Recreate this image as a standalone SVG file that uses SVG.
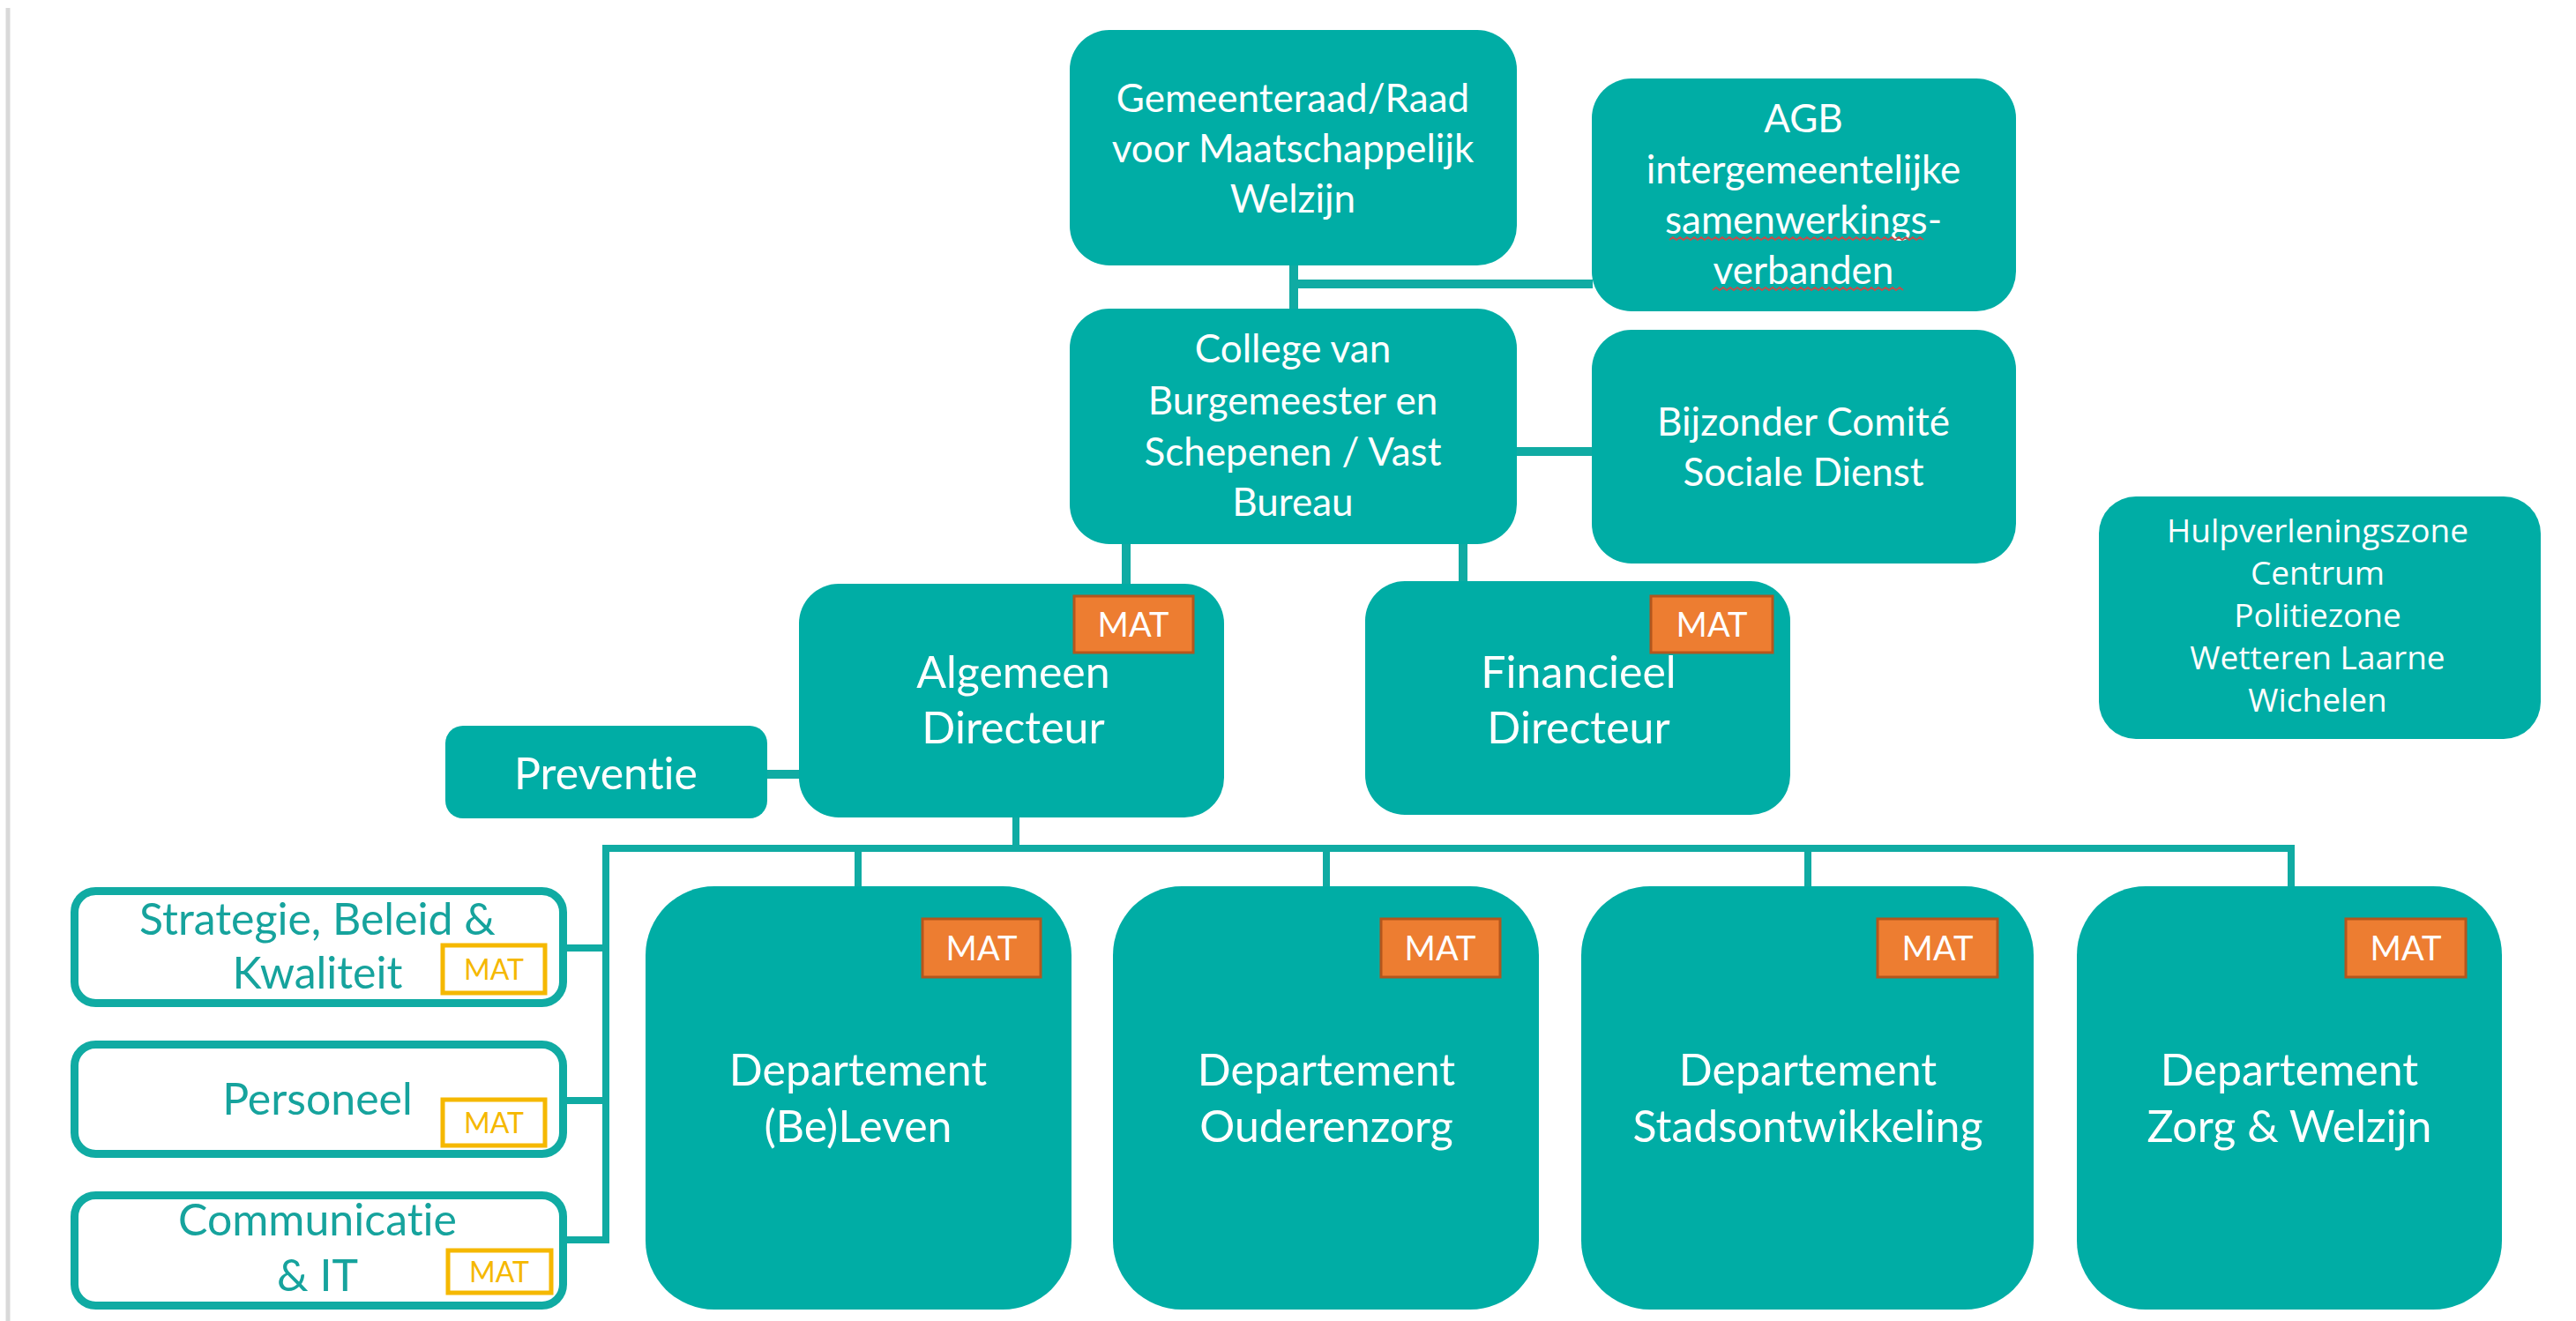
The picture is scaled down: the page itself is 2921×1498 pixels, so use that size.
<svg xmlns="http://www.w3.org/2000/svg" width="2921" height="1498" viewBox="0 0 2921 1498">
<style>
text{font-variant-ligatures:none;font-feature-settings:"liga" 0,"clig" 0}
.box{fill:#00ADA5}
.obox{fill:#ffffff;stroke:#10ABA3;stroke-width:9}
.mat{fill:#ED7D31;stroke:#B4561D;stroke-width:3}
.ymat{fill:#ffffff;stroke:#F5B800;stroke-width:5}
.t{font-family:Lato,"Liberation Sans",sans-serif;fill:#ffffff;text-anchor:middle}
.top{font-size:44px}
.big{font-size:50px}
.tt{font-family:Lato,"Liberation Sans",sans-serif;fill:#16A39D;text-anchor:middle;font-size:50px}
.mt{font-family:Lato,"Liberation Sans",sans-serif;fill:#ffffff;text-anchor:middle;font-size:38px}
.ymt{font-family:Lato,"Liberation Sans",sans-serif;fill:#F5B800;text-anchor:middle;font-size:32px}
.ht{font-family:"Open Sans","Noto Sans",sans-serif;fill:#ffffff;text-anchor:middle;font-size:37px}
.c{stroke:#10ABA3;fill:none}
.sq{stroke:#C0504D;fill:none;stroke-width:2}
</style>
<rect x="0" y="0" width="2921" height="1498" fill="#ffffff"/>
<line x1="9" y1="9" x2="9" y2="1498" stroke="#d9d9d9" stroke-width="5"/>
<g id="connectors">
<path class="c" stroke-width="10" d="M1467 300 V352 M1467 322 H1806"/>
<path class="c" stroke-width="10" d="M1718 512 H1806"/>
<path class="c" stroke-width="10" d="M1277 615 V663 M1659 615 V661"/>
<path class="c" stroke-width="10" d="M868 878 H908"/>
<path class="c" stroke-width="8" d="M1152 926 V962"/>
<path class="c" stroke-width="8" d="M683 962 H2602"/>
<path class="c" stroke-width="8" d="M973 962 V1006 M1504 962 V1006 M2050 962 V1006 M2598 962 V1006"/>
<path class="c" stroke-width="8" d="M687 958 V1410 M643 1075 H687 M643 1248 H687 M643 1406 H687"/>
</g>
<g id="gemeenteraad">
<rect class="box" x="1213" y="34" width="507" height="267" rx="45"/>
<text class="t top" x="1466" y="127">Gemeenteraad/Raad</text>
<text class="t top" x="1466" y="184">voor Maatschappelijk</text>
<text class="t top" x="1466" y="241">Welzijn</text>
</g>
<g id="agb">
<rect class="box" x="1805" y="89" width="481" height="264" rx="45"/>
<text class="t top" x="2045" y="150">AGB</text>
<text class="t top" x="2045" y="208">intergemeentelijke</text>
<text class="t top" x="2045" y="265">samenwerkings-</text>
<text class="t top" x="2045" y="322">verbanden</text>
<path class="sq" d="M1893 272 l4 -3 l4 3 l4 -3 l4 3 l4 -3 l4 3 l4 -3 l4 3 l4 -3 l4 3 l4 -3 l4 3 l4 -3 l4 3 l4 -3 l4 3 l4 -3 l4 3 l4 -3 l4 3 l4 -3 l4 3 l4 -3 l4 3 l4 -3 l4 3 l4 -3 l4 3 l4 -3 l4 3 l4 -3 l4 3 l4 -3 l4 3 l4 -3 l4 3 l4 -3 l4 3 l4 -3 l4 3 l4 -3 l4 3 l4 -3 l4 3 l4 -3 l4 3 l4 -3 l4 3 l4 -3 l4 3 l4 -3 l4 3 l4 -3 l4 3 l4 -3 l4 3 l4 -3 l4 3 l4 -3 l4 3 l4 -3 l4 3 l4 -3 l4 3 l4 -3 l4 3 l4 -3 l4 3 l4 -3 l4 3 l4 -3 l4 3"/>
<path class="sq" d="M1942 329 l4 -3 l4 3 l4 -3 l4 3 l4 -3 l4 3 l4 -3 l4 3 l4 -3 l4 3 l4 -3 l4 3 l4 -3 l4 3 l4 -3 l4 3 l4 -3 l4 3 l4 -3 l4 3 l4 -3 l4 3 l4 -3 l4 3 l4 -3 l4 3 l4 -3 l4 3 l4 -3 l4 3 l4 -3 l4 3 l4 -3 l4 3 l4 -3 l4 3 l4 -3 l4 3 l4 -3 l4 3 l4 -3 l4 3 l4 -3 l4 3 l4 -3 l4 3 l4 -3 l4 3 l4 -3 l4 3 l4 -3 l4 3 l4 -3 l4 3"/>
</g>
<g id="college">
<rect class="box" x="1213" y="350" width="507" height="267" rx="45"/>
<text class="t top" x="1466" y="411">College van</text>
<text class="t top" x="1466" y="470">Burgemeester en</text>
<text class="t top" x="1466" y="528">Schepenen / Vast</text>
<text class="t top" x="1466" y="585">Bureau</text>
</g>
<g id="bijzonder">
<rect class="box" x="1805" y="374" width="481" height="265" rx="45"/>
<text class="t top" x="2045" y="494">Bijzonder Comité</text>
<text class="t top" x="2045" y="551">Sociale Dienst</text>
</g>
<g id="hulpverleningszone">
<rect class="box" x="2380" y="563" width="501" height="275" rx="42"/>
<text class="ht" x="2628" y="615">Hulpverleningszone</text>
<text class="ht" x="2628" y="663">Centrum</text>
<text class="ht" x="2628" y="711">Politiezone</text>
<text class="ht" x="2628" y="759">Wetteren Laarne</text>
<text class="ht" x="2628" y="807">Wichelen</text>
</g>
<g id="algemeen-directeur">
<rect class="box" x="906" y="662" width="482" height="265" rx="45"/>
<rect class="mat" x="1218" y="676" width="135" height="64"/>
<text class="mt" x="1285" y="722">MAT</text>
<text class="t big" x="1149" y="780">Algemeen</text>
<text class="t big" x="1149" y="843">Directeur</text>
</g>
<g id="financieel-directeur">
<rect class="box" x="1548" y="659" width="482" height="265" rx="45"/>
<rect class="mat" x="1872" y="676" width="138" height="64"/>
<text class="mt" x="1941" y="722">MAT</text>
<text class="t big" x="1790" y="780">Financieel</text>
<text class="t big" x="1790" y="843">Directeur</text>
</g>
<g id="preventie">
<rect class="box" x="505" y="823" width="365" height="105" rx="20"/>
<text class="t big" x="687" y="895">Preventie</text>
</g>
<g id="strategie">
<rect class="obox" x="84.5" y="1010.5" width="554" height="127" rx="24"/>
<text class="tt" x="360" y="1060">Strategie, Beleid &amp;</text>
<text class="tt" x="360" y="1121">Kwaliteit</text>
<rect class="ymat" x="502" y="1072" width="116" height="54"/>
<text class="ymt" x="560" y="1111">MAT</text>
</g>
<g id="personeel">
<rect class="obox" x="84.5" y="1184.5" width="554" height="124" rx="24"/>
<text class="tt" x="360" y="1264">Personeel</text>
<rect class="ymat" x="502" y="1247" width="116" height="52"/>
<text class="ymt" x="560" y="1285">MAT</text>
</g>
<g id="communicatie">
<rect class="obox" x="84.5" y="1355.5" width="554" height="125" rx="24"/>
<text class="tt" x="360" y="1401">Communicatie</text>
<text class="tt" x="360" y="1464">&amp; IT</text>
<rect class="ymat" x="508" y="1418" width="117" height="48"/>
<text class="ymt" x="566" y="1454">MAT</text>
</g>
<g id="dept-beleven">
<rect class="box" x="732" y="1005" width="483" height="480" rx="78"/>
<rect class="mat" x="1046" y="1042" width="134" height="66"/>
<text class="mt" x="1113" y="1089">MAT</text>
<text class="t big" x="973" y="1231">Departement</text>
<text class="t big" x="973" y="1295">(Be)Leven</text>
</g>
<g id="dept-ouderenzorg">
<rect class="box" x="1262" y="1005" width="483" height="480" rx="78"/>
<rect class="mat" x="1566" y="1042" width="135" height="66"/>
<text class="mt" x="1633" y="1089">MAT</text>
<text class="t big" x="1504" y="1231">Departement</text>
<text class="t big" x="1504" y="1295">Ouderenzorg</text>
</g>
<g id="dept-stadsontwikkeling">
<rect class="box" x="1793" y="1005" width="513" height="480" rx="78"/>
<rect class="mat" x="2129" y="1042" width="136" height="66"/>
<text class="mt" x="2197" y="1089">MAT</text>
<text class="t big" x="2050" y="1231">Departement</text>
<text class="t big" x="2050" y="1295">Stadsontwikkeling</text>
</g>
<g id="dept-zorg-welzijn">
<rect class="box" x="2355" y="1005" width="482" height="480" rx="78"/>
<rect class="mat" x="2660" y="1042" width="136" height="66"/>
<text class="mt" x="2728" y="1089">MAT</text>
<text class="t big" x="2596" y="1231">Departement</text>
<text class="t big" x="2596" y="1295">Zorg &amp; Welzijn</text>
</g>
</svg>
